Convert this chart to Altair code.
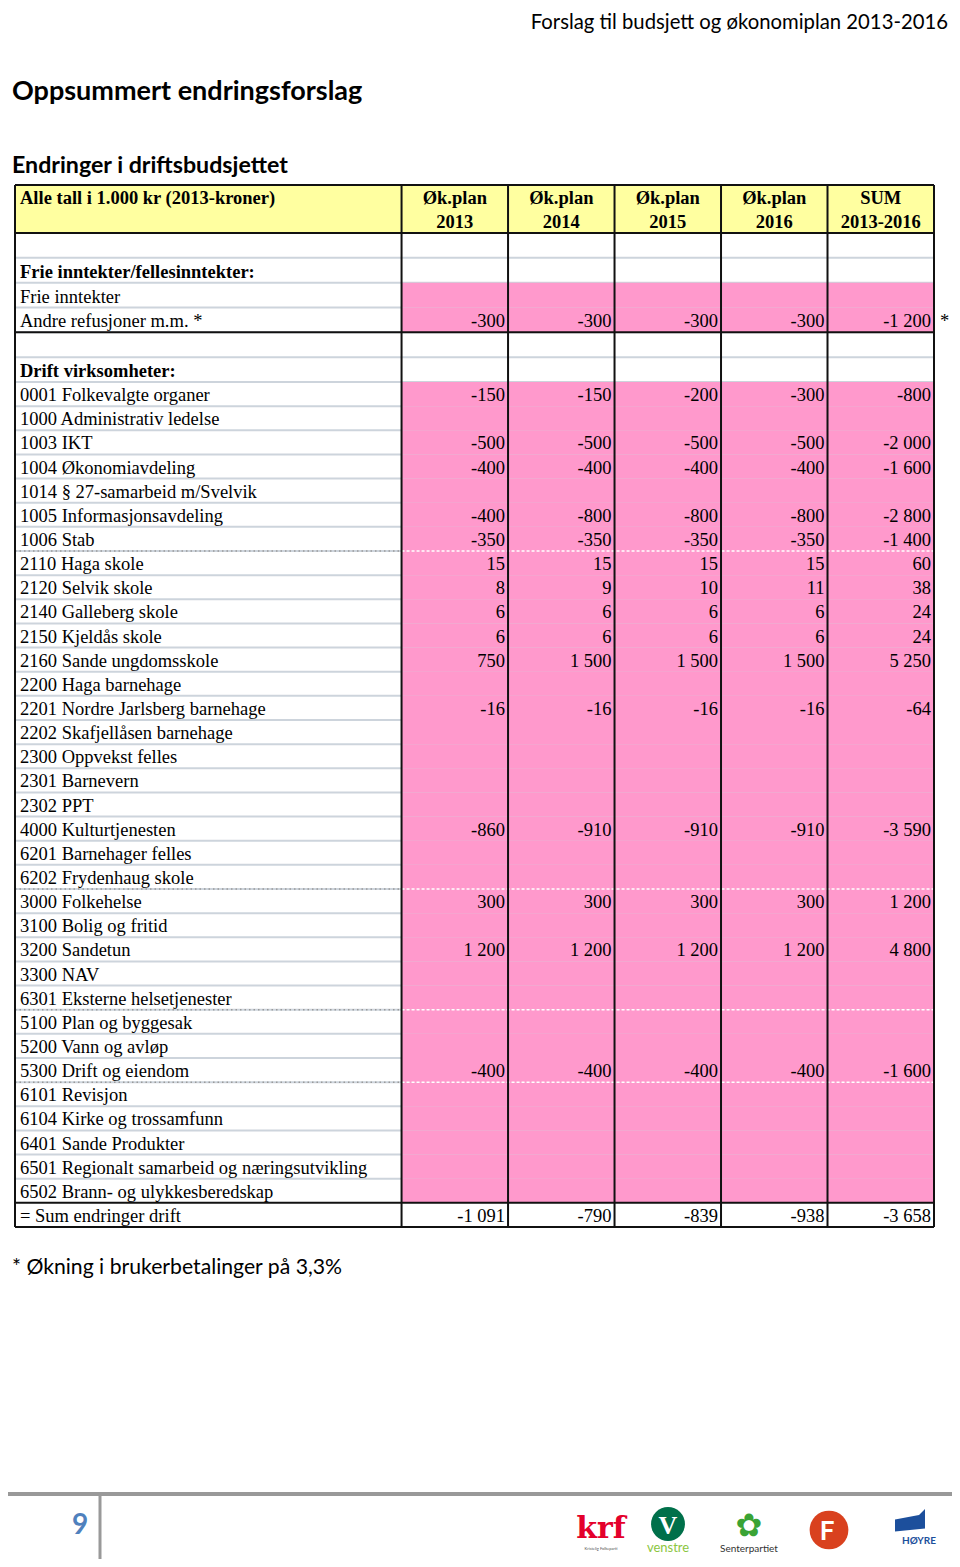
import altair as alt
import pandas as pd

# ---------------- data ----------------
page_header = "Forslag til budsjett og økonomiplan 2013-2016"
title_main = "Oppsummert endringsforslag"
title_sub = "Endringer i driftsbudsjettet"
footnote = "* Økning i brukerbetalinger på 3,3%"
page_number = "9"

header_left = "Alle tall i 1.000 kr (2013-kroner)"
col_head_1 = ["Øk.plan", "Øk.plan", "Øk.plan", "Øk.plan", "SUM"]
col_head_2 = ["2013", "2014", "2015", "2016", "2013-2016"]

labels = [
    "", "Frie inntekter/fellesinntekter:", "Frie inntekter", "Andre refusjoner m.m. *",
    "", "Drift virksomheter:",
    "0001 Folkevalgte organer", "1000 Administrativ ledelse", "1003 IKT",
    "1004 Økonomiavdeling", "1014 § 27-samarbeid m/Svelvik", "1005 Informasjonsavdeling",
    "1006 Stab", "2110 Haga skole", "2120 Selvik skole", "2140 Galleberg skole",
    "2150 Kjeldås skole", "2160 Sande ungdomsskole", "2200 Haga barnehage",
    "2201 Nordre Jarlsberg barnehage", "2202 Skafjellåsen barnehage", "2300 Oppvekst felles",
    "2301 Barnevern", "2302 PPT", "4000 Kulturtjenesten", "6201 Barnehager felles",
    "6202 Frydenhaug skole", "3000 Folkehelse", "3100 Bolig og fritid", "3200 Sandetun",
    "3300 NAV", "6301 Eksterne helsetjenester", "5100 Plan og byggesak", "5200 Vann og avløp",
    "5300 Drift og eiendom", "6101 Revisjon", "6104 Kirke og trossamfunn",
    "6401 Sande Produkter", "6501 Regionalt samarbeid og næringsutvikling",
    "6502 Brann- og ulykkesberedskap", "= Sum endringer drift",
]
N = None
v2013 = [N, N, N, -300, N, N, -150, N, -500, -400, N, -400, -350, 15, 8, 6, 6, 750,
         N, -16, N, N, N, N, -860, N, N, 300, N, 1200, N, N, N, N, -400, N, N, N, N, N, -1091]
v2014 = [N, N, N, -300, N, N, -150, N, -500, -400, N, -800, -350, 15, 9, 6, 6, 1500,
         N, -16, N, N, N, N, -910, N, N, 300, N, 1200, N, N, N, N, -400, N, N, N, N, N, -790]
v2015 = [N, N, N, -300, N, N, -200, N, -500, -400, N, -800, -350, 15, 10, 6, 6, 1500,
         N, -16, N, N, N, N, -910, N, N, 300, N, 1200, N, N, N, N, -400, N, N, N, N, N, -839]
v2016 = [N, N, N, -300, N, N, -300, N, -500, -400, N, -800, -350, 15, 11, 6, 6, 1500,
         N, -16, N, N, N, N, -910, N, N, 300, N, 1200, N, N, N, N, -400, N, N, N, N, N, -938]
vsum = [N, N, N, -1200, N, N, -800, N, -2000, -1600, N, -2800, -1400, 60, 38, 24, 24, 5250,
        N, -64, N, N, N, N, -3590, N, N, 1200, N, 4800, N, N, N, N, -1600, N, N, N, N, N, -3658]

bold_rows = {"Frie inntekter/fellesinntekter:", "Drift virksomheter:"}
pink_rows = set(range(2, 4)) | set(range(6, 40))   # indices into labels
dotted_after = [12, 26, 31, 34]                      # indices into labels

# ---------------- layout helpers ----------------
FIRST_ROW = 2                 # two header rows above the label rows
N_ROWS = FIRST_ROW + len(labels)
LABEL_W = 3.63                # label column width in value-column units
edges = [0.0, LABEL_W] + [LABEL_W + k for k in range(1, 6)]

xs = alt.Scale(domain=[0, edges[-1]], range=[7, 926], zero=False, nice=False)
ys = alt.Scale(domain=[0, 2, 8, N_ROWS], range=[177, 225, 374, 1219], zero=False, nice=False)

SERIF = "Liberation Serif"
SANS = "Lato"
FS = 18.5

def fmt(v):
    if v is None:
        return None
    s = f"{abs(v):,}".replace(",", " ")
    return ("-" if v < 0 else "") + s

series = [v2013, v2014, v2015, v2016, vsum]

# ---------------- tables ----------------
pink_df = pd.DataFrame([
    {"x": edges[1], "x2": edges[6], "y": FIRST_ROW + i, "y2": FIRST_ROW + i + 1}
    for i in sorted(pink_rows)
])
header_df = pd.DataFrame([{"x": edges[0], "x2": edges[6], "y": 0, "y2": 2}])

grey = []
for b in range(FIRST_ROW + 1, N_ROWS - 1):
    grey.append({"x": edges[0], "x2": edges[1], "y": b})
    grey.append({"x": edges[1], "x2": edges[6], "y": b})
grey_df = pd.DataFrame(grey)

dot_left = pd.DataFrame([{"x": edges[0], "x2": edges[1], "y": FIRST_ROW + i + 1} for i in dotted_after])
dot_right = pd.DataFrame([{"x": edges[1], "x2": edges[6], "y": FIRST_ROW + i + 1} for i in dotted_after])

black_h = pd.DataFrame([{"x": edges[0], "x2": edges[6], "y": b}
                        for b in [0, 2, FIRST_ROW + 4, N_ROWS - 1, N_ROWS]])
black_v = pd.DataFrame([{"x": e, "y": 0, "y2": N_ROWS} for e in edges])

lab_rows = []
for i, lab in enumerate(labels):
    if lab:
        lab_rows.append({"x": edges[0], "y": FIRST_ROW + i + 1, "t": lab,
                         "w": "bold" if lab in bold_rows else "normal"})
lab_df = pd.DataFrame(lab_rows)

num_rows = []
for c, ser in enumerate(series):
    for i, v in enumerate(ser):
        if v is not None:
            num_rows.append({"x": edges[c + 2], "y": FIRST_ROW + i + 1, "t": fmt(v)})
num_df = pd.DataFrame(num_rows)

head_df = pd.DataFrame(
    [{"x": (edges[c + 1] + edges[c + 2]) / 2, "y": 1, "t": col_head_1[c]} for c in range(5)]
    + [{"x": (edges[c + 1] + edges[c + 2]) / 2, "y": 2, "t": col_head_2[c]} for c in range(5)]
)
head_left_df = pd.DataFrame([{"x": edges[0], "y": 1, "t": header_left}])
star_df = pd.DataFrame([{"x": edges[6], "y": FIRST_ROW + 4, "t": "*"}])

X = lambda f="x": alt.X(f"{f}:Q", scale=xs, axis=None)
Y = lambda f="y": alt.Y(f"{f}:Q", scale=ys, axis=None)

layers = []
layers.append(alt.Chart(header_df).mark_rect(color="#ffffa0").encode(
    x=X(), x2="x2:Q", y=Y(), y2="y2:Q"))
layers.append(alt.Chart(grey_df).mark_rule(color="#cdd4dc", strokeWidth=2).encode(
    x=X(), x2="x2:Q", y=Y()))
layers.append(alt.Chart(pink_df).mark_rect(color="#ff99cc").encode(
    x=X(), x2="x2:Q", y=Y(), y2="y2:Q"))
layers.append(alt.Chart(dot_left).mark_rule(color="#9a9a9a", strokeWidth=1.5, strokeDash=[1.5, 3]).encode(
    x=X(), x2="x2:Q", y=Y()))
layers.append(alt.Chart(dot_right).mark_rule(color="#ffffff", strokeWidth=1.5, strokeDash=[3, 2]).encode(
    x=X(), x2="x2:Q", y=Y()))
layers.append(alt.Chart(black_h).mark_rule(color="#111111", strokeWidth=2).encode(
    x=X(), x2="x2:Q", y=Y()))
layers.append(alt.Chart(black_v).mark_rule(color="#111111", strokeWidth=2).encode(
    x=X(), y=Y(), y2="y2:Q"))

for w in ["normal", "bold"]:
    sub = lab_df[lab_df["w"] == w]
    layers.append(alt.Chart(sub).mark_text(
        align="left", baseline="alphabetic", dx=5, dy=-5, font=SERIF, fontSize=FS,
        fontWeight=w, color="#000000").encode(x=X(), y=Y(), text="t:N"))

layers.append(alt.Chart(num_df).mark_text(
    align="right", baseline="alphabetic", dx=-3, dy=-5, font=SERIF, fontSize=FS,
    color="#000000").encode(x=X(), y=Y(), text="t:N"))
layers.append(alt.Chart(head_df).mark_text(
    align="center", baseline="alphabetic", dy=-5, font=SERIF, fontSize=FS,
    fontWeight="bold", color="#000000").encode(x=X(), y=Y(), text="t:N"))
layers.append(alt.Chart(head_left_df).mark_text(
    align="left", baseline="alphabetic", dx=5, dy=-5, font=SERIF, fontSize=FS,
    fontWeight="bold", color="#000000").encode(x=X(), y=Y(), text="t:N"))
layers.append(alt.Chart(star_df).mark_text(
    align="left", baseline="alphabetic", dx=6, dy=-5, font=SERIF, fontSize=FS,
    color="#000000").encode(x=X(), y=Y(), text="t:N"))

# ---------------- page texts ----------------
def page_text(txt, x, y, size, weight="normal", align="left", color="#000000", font=SANS):
    return alt.Chart(pd.DataFrame({"t": [txt]})).mark_text(
        align=align, baseline="alphabetic", font=font, fontSize=size,
        fontWeight=weight, color=color).encode(
        x=alt.value(x), y=alt.value(y), text="t:N")

layers.append(page_text(page_header, 940, 20.5, 20.3, align="right"))
layers.append(page_text(title_main, 4, 92, 27, weight="bold"))
layers.append(page_text(title_sub, 4, 165, 23.2, weight="bold"))
layers.append(page_text(footnote, 4, 1266, 21.2))

# footer
foot_line = pd.DataFrame({"a": [0]})
layers.append(alt.Chart(foot_line).mark_rule(color="#999999", strokeWidth=4).encode(
    x=alt.value(-8), x2=alt.value(944), y=alt.value(1486)))
layers.append(alt.Chart(foot_line).mark_rule(color="#999999", strokeWidth=3).encode(
    x=alt.value(92), y=alt.value(1486), y2=alt.value(1551)))
layers.append(page_text(page_number, 72, 1526, 28, weight="bold", align="center", color="#4f81bd"))

# party logos (approximations)
layers.append(page_text("krf", 593, 1530, 30, weight="bold", align="center", color="#e4002b", font="DejaVu Serif"))
layers.append(page_text("Kristelig Folkeparti", 593, 1542, 4, align="center", color="#555555"))
layers.append(alt.Chart(foot_line).mark_point(shape="circle", size=1150, filled=True, opacity=1, color="#00704a").encode(
    x=alt.value(660), y=alt.value(1516)))
layers.append(page_text("V", 660, 1526, 26, weight="bold", align="center", color="#ffffff", font=SERIF))
layers.append(page_text("venstre", 660, 1544, 13, align="center", color="#8cc63f"))
layers.append(page_text("✿", 741, 1528, 32, align="center", color="#3aa335", font="DejaVu Sans"))
layers.append(page_text("Senterpartiet", 741, 1544, 10, align="center", color="#333333"))
layers.append(alt.Chart(foot_line).mark_point(shape="circle", size=1500, filled=True, opacity=1, color="#d9411e").encode(
    x=alt.value(821), y=alt.value(1522)))
layers.append(page_text("F", 819, 1532, 26, weight="bold", align="center", color="#ffffff"))
layers.append(alt.Chart(foot_line).mark_point(shape="M -1 -0.3 L 0.6 -0.6 L 1 -1 L 1 0.3 L -1 0.5 Z",
                                              size=900, filled=True, opacity=1, color="#1c4f9c").encode(
    x=alt.value(902), y=alt.value(1516)))
layers.append(page_text("HØYRE", 911, 1536, 10, weight="bold", align="center", color="#1c4f9c"))

chart = alt.layer(*layers).properties(
    width=944, height=1551,
    autosize=alt.AutoSizeParams(type="none"),
    padding=0,
).configure_view(stroke=None)

chart.save("out.html", embed_options={"renderer": "svg", "actions": False})
